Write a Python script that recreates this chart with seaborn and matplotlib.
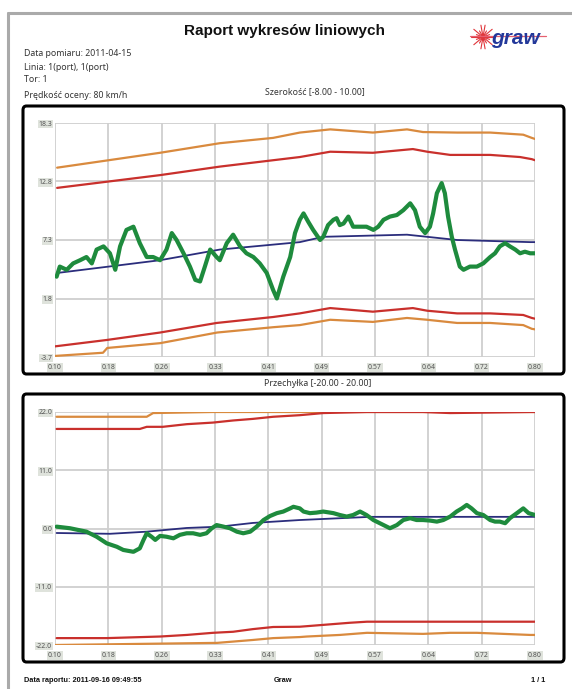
import matplotlib
matplotlib.use("Agg")
import matplotlib.pyplot as plt
from matplotlib.patches import FancyBboxPatch
from matplotlib.lines import Line2D
import numpy as np
import pandas as pd
import seaborn as sns

# ---------------- data ----------------
x_tick_labels = ["0.10", "0.18", "0.26", "0.33", "0.41", "0.49", "0.57", "0.64", "0.72", "0.80"]

# Chart 1: Szerokość
top_ylim = (-3.7, 18.3)
top_yticks = [-3.7, 1.8, 7.3, 12.8, 18.3]
top_ytick_labels = ["-3.7", "1.8", "7.3", "12.8", "18.3"]

w_upper_orange_x = [0.04, 1.97, 3.09, 4.09, 4.59, 5.16, 5.96, 6.60, 6.90, 7.54, 8.16, 8.78, 8.94, 9.0]
w_upper_orange_y = [14.1, 15.5, 16.4, 16.9, 17.4, 17.7, 17.4, 17.7, 17.45, 17.4, 17.4, 17.2, 16.9, 16.8]

w_upper_red_x = [0.04, 1.97, 3.09, 4.59, 5.16, 5.96, 6.71, 6.98, 7.41, 8.16, 8.72, 8.94, 9.0]
w_upper_red_y = [12.2, 13.4, 14.2, 15.1, 15.6, 15.5, 15.85, 15.6, 15.3, 15.3, 15.1, 14.9, 14.8]

w_blue_x = [0.04, 1.97, 3.09, 4.59, 5.03, 6.60, 7.54, 8.91, 9.0]
w_blue_y = [4.2, 5.4, 6.4, 7.1, 7.6, 7.8, 7.3, 7.1, 7.1]

w_green_x = [0.03, 0.09, 0.22, 0.34, 0.47, 0.59, 0.69, 0.78, 0.91, 1.03, 1.13, 1.22, 1.34, 1.47,
             1.59, 1.72, 1.84, 1.97, 2.09, 2.19, 2.28, 2.41, 2.53, 2.63, 2.72, 2.81, 2.91, 3.03,
             3.09, 3.22, 3.34, 3.47, 3.59, 3.72, 3.84, 3.97, 4.09, 4.16, 4.28, 4.41, 4.50, 4.59,
             4.66, 4.75, 4.84, 4.97, 5.03, 5.12, 5.22, 5.28, 5.34, 5.41, 5.50, 5.59, 5.72, 5.84,
             5.97, 6.06, 6.16, 6.28, 6.41, 6.53, 6.66, 6.75, 6.84, 6.94, 7.03, 7.09, 7.16, 7.25,
             7.31, 7.37, 7.44, 7.50, 7.59, 7.66, 7.78, 7.91, 8.03, 8.16, 8.25, 8.34, 8.44, 8.53,
             8.63, 8.72, 8.81, 8.91, 9.0]
w_green_y = [3.85, 4.8, 4.5, 5.1, 5.4, 5.7, 5.1, 6.4, 6.7, 6.05, 4.5, 6.7, 8.25, 8.55,
             7.0, 5.7, 5.7, 5.4, 6.4, 7.95, 7.3, 6.05, 4.8, 3.55, 3.4, 4.8, 6.4, 5.7,
             5.4, 7.0, 7.8, 6.7, 6.05, 5.7, 5.1, 4.2, 2.6, 1.8, 3.85, 5.7, 7.95, 9.2,
             9.8, 9.0, 8.25, 7.3, 7.6, 8.7, 9.2, 9.35, 8.7, 8.85, 9.5, 8.55, 8.55, 8.55,
             8.25, 8.55, 9.2, 9.5, 9.65, 10.1, 10.75, 10.1, 8.55, 7.95, 8.55, 9.8, 11.7, 12.65,
             11.7, 9.5, 7.6, 6.4, 4.8, 4.5, 4.8, 4.8, 5.1, 5.7, 6.05, 6.7, 7.0, 6.7,
             6.4, 6.05, 6.2, 6.05, 6.05]

w_lower_red_x = [0.0, 0.97, 1.97, 3.03, 4.09, 4.59, 5.16, 5.96, 6.71, 6.98, 7.54, 8.16, 8.78, 8.94, 9.0]
w_lower_red_y = [-2.7, -2.1, -1.4, -0.5, 0.06, 0.4, 0.9, 0.56, 0.9, 0.65, 0.4, 0.4, 0.25, -0.03, -0.1]

w_lower_orange_x = [0.0, 0.90, 0.98, 1.97, 3.04, 4.09, 4.59, 5.16, 5.96, 6.60, 6.98, 7.54, 8.16, 8.78, 8.94, 9.0]
w_lower_orange_y = [-3.6, -3.3, -2.85, -2.4, -1.4, -0.9, -0.7, -0.2, -0.4, -0.03, -0.2, -0.5, -0.5, -0.7, -1.05, -1.1]

# Chart 2: Przechyłka
bot_ylim = (-22.0, 22.0)
bot_yticks = [-22.0, -11.0, 0.0, 11.0, 22.0]
bot_ytick_labels = ["-22.0", "-11.0", "0.0", "11.0", "22.0"]

c_upper_orange_x = [0.03, 1.72, 1.84, 2.96, 9.0]
c_upper_orange_y = [21.1, 21.1, 21.8, 22.0, 22.0]

c_upper_red_x = [0.03, 1.59, 1.72, 2.02, 2.47, 2.96, 3.34, 3.71, 4.09, 4.59, 5.03, 5.85, 6.90, 7.41, 8.91, 9.0]
c_upper_red_y = [18.8, 18.8, 19.2, 19.2, 19.7, 20.0, 20.4, 20.7, 21.1, 21.4, 21.8, 22.0, 22.0, 21.8, 22.0, 22.0]

c_blue_x = [0.03, 1.03, 1.72, 2.47, 3.09, 3.71, 4.59, 5.03, 5.91, 6.90, 8.91, 9.0]
c_blue_y = [-0.85, -1.0, -0.6, 0.1, 0.35, 1.05, 1.6, 1.8, 2.2, 2.2, 2.2, 2.2]

c_green_x = [0.03, 0.28, 0.59, 0.78, 0.97, 1.16, 1.28, 1.47, 1.59, 1.66, 1.72, 1.81, 1.88, 1.97,
             2.09, 2.22, 2.34, 2.47, 2.59, 2.72, 2.84, 2.94, 3.03, 3.16, 3.28, 3.41, 3.53, 3.66,
             3.78, 3.91, 4.03, 4.16, 4.28, 4.41, 4.47, 4.59, 4.66, 4.78, 4.90, 5.03, 5.22, 5.34,
             5.47, 5.59, 5.72, 5.84, 5.97, 6.09, 6.22, 6.28, 6.41, 6.53, 6.66, 6.78, 6.90, 7.03,
             7.16, 7.28, 7.41, 7.53, 7.63, 7.72, 7.81, 7.91, 8.03, 8.16, 8.25, 8.34, 8.44, 8.53,
             8.66, 8.78, 8.88, 9.0]
c_green_y = [0.35, 0.05, -0.6, -1.55, -2.8, -3.45, -4.05, -4.4, -3.75, -2.15, -0.9, -1.55, -2.15, -1.4,
             -1.55, -1.85, -1.2, -0.9, -0.9, -1.2, -0.9, 0.05, 0.65, 0.35, 0.05, -0.6, -0.9, -0.6,
             0.35, 1.6, 2.35, 2.9, 3.2, 3.8, 4.1, 3.8, 3.2, 2.9, 3.0, 3.2, 2.9, 2.55,
             2.25, 2.55, 3.2, 2.55, 1.6, 1.0, 0.35, 0.05, 0.65, 1.6, 1.95, 1.6, 1.6, 1.5,
             1.3, 1.6, 2.25, 3.2, 3.8, 4.45, 3.8, 2.9, 2.55, 1.6, 1.3, 1.3, 1.0, 1.95,
             2.9, 3.8, 2.9, 2.55]

c_lower_red_x = [0.03, 0.97, 1.97, 2.47, 2.96, 3.34, 3.71, 4.09, 4.59, 4.78, 5.03, 5.53, 5.85, 8.91, 9.0]
c_lower_red_y = [-20.7, -20.7, -20.4, -20.1, -19.7, -19.5, -19.0, -18.6, -18.55, -18.4, -18.2, -17.8, -17.6, -17.6, -17.6]

c_lower_orange_x = [0.0, 3.04, 3.71, 4.09, 4.59, 4.72, 5.34, 5.85, 6.90, 7.41, 7.91, 8.91, 9.0]
c_lower_orange_y = [-22.0, -21.6, -21.05, -20.7, -20.5, -20.4, -20.1, -19.7, -19.9, -19.7, -19.7, -20.1, -20.1]

# ---------------- style ----------------
sns.set_theme(style="white")
plt.rcParams['font.family'] = ['Noto Sans', 'DejaVu Sans']

W, H = 572, 689
fig = plt.figure(figsize=(W / 100, H / 100), dpi=100)
fig.patch.set_facecolor("white")

def fx(px):
    return px / W

def fy(py):
    return 1 - py / H

GREEN = "#1e8b3d"
BLUE = "#2b2d7c"
RED = "#c9302c"
ORANGE = "#d98a3e"
GRID = "#cfcfcf"

def draw_series(ax, x, y, color, lw):
    df = pd.DataFrame({"x": x, "y": y})
    sns.lineplot(data=df, x="x", y="y", ax=ax, color=color, linewidth=lw,
                 estimator=None, sort=False)

def setup_axes(ax, ylim, yticks, ylabels):
    ax.set_xlim(0, 9)
    ax.set_ylim(*ylim)
    ax.set_xticks(range(10))
    ax.set_xticklabels(x_tick_labels)
    ax.set_yticks(yticks)
    ax.set_yticklabels(ylabels)
    ax.grid(True, color=GRID, linewidth=1.3)
    for s in ax.spines.values():
        s.set_visible(False)
    ax.set_xlabel("")
    ax.set_ylabel("")
    ax.tick_params(axis="both", length=0, labelsize=5, colors="#555555")
    ax.tick_params(axis="x", pad=5)
    ax.tick_params(axis="y", pad=2)
    for lab in ax.get_xticklabels() + ax.get_yticklabels():
        lab.set_bbox(dict(facecolor="#dfe3dc", edgecolor="none", pad=0.6))
    ax.set_facecolor("white")

# page frame
fig.add_artist(Line2D([fx(8), fx(8)], [fy(13), 0], color="#aaaaaa", lw=2.2))
fig.add_artist(Line2D([fx(8), 1], [fy(13), fy(13)], color="#aaaaaa", lw=2.2))

# title
fig.text(fx(285), fy(31), "Raport wykresów liniowych", ha="center", va="center",
         fontsize=11, fontweight="bold", family=["Liberation Sans", "DejaVu Sans"], color="#111111")

# logo
fig.text(fx(515), fy(39), "graw", ha="center", va="center", fontsize=15, fontweight="bold",
         style="italic", color="#23389a", family=["Liberation Sans", "DejaVu Sans"])
cx, cy = 483, 37
for ang in np.linspace(0, np.pi, 9, endpoint=False):
    L = 12 if int(round(ang * 8 / np.pi)) % 2 == 0 else 7
    fig.add_artist(Line2D([fx(cx - L * np.cos(ang)), fx(cx + L * np.cos(ang))],
                          [fy(cy - L * np.sin(ang)), fy(cy + L * np.sin(ang))],
                          color="#e0353a", lw=0.8))
fig.add_artist(Line2D([fx(470), fx(546)], [fy(36), fy(36)], color="#e66070", lw=0.9))

# info lines
info = ["Data pomiaru: 2011-04-15", "Linia: 1(port), 1(port)", "Tor: 1", "Prędkość oceny: 80 km/h"]
for txt, py in zip(info, [53, 67, 80, 95]):
    fig.text(fx(24), fy(py), txt, ha="left", va="center", fontsize=6.3, color="#333333")

fig.text(fx(315), fy(92), "Szerokość [-8.00 - 10.00]", ha="center", va="center",
         fontsize=6.3, color="#333333")
fig.text(fx(318), fy(384), "Przechyłka [-20.00 - 20.00]", ha="center", va="center",
         fontsize=6.3, color="#333333")

# boxes
for (y0, y1) in [(106, 374), (394, 662)]:
    box = FancyBboxPatch((fx(23), fy(y1)), fx(564) - fx(23), fy(y0) - fy(y1),
                         boxstyle="round,pad=0,rounding_size=0.006",
                         transform=fig.transFigure, fill=False, edgecolor="black",
                         linewidth=2.2, zorder=0)
    fig.add_artist(box)

# chart 1
ax1 = fig.add_axes([fx(55), fy(357), fx(535) - fx(55), fy(123) - fy(357)])
draw_series(ax1, w_upper_orange_x, w_upper_orange_y, ORANGE, 1.6)
draw_series(ax1, w_upper_red_x, w_upper_red_y, RED, 1.6)
draw_series(ax1, w_lower_red_x, w_lower_red_y, RED, 1.6)
draw_series(ax1, w_lower_orange_x, w_lower_orange_y, ORANGE, 1.6)
draw_series(ax1, w_blue_x, w_blue_y, BLUE, 1.3)
draw_series(ax1, w_green_x, w_green_y, GREEN, 3.0)
setup_axes(ax1, top_ylim, top_yticks, top_ytick_labels)

# chart 2
ax2 = fig.add_axes([fx(55), fy(645), fx(535) - fx(55), fy(412) - fy(645)])
draw_series(ax2, c_upper_orange_x, c_upper_orange_y, ORANGE, 1.6)
draw_series(ax2, c_upper_red_x, c_upper_red_y, RED, 1.6)
draw_series(ax2, c_lower_red_x, c_lower_red_y, RED, 1.6)
draw_series(ax2, c_lower_orange_x, c_lower_orange_y, ORANGE, 1.6)
draw_series(ax2, c_blue_x, c_blue_y, BLUE, 1.3)
draw_series(ax2, c_green_x, c_green_y, GREEN, 3.0)
setup_axes(ax2, bot_ylim, bot_yticks, bot_ytick_labels)

# footer
ff = ["Liberation Sans", "DejaVu Sans"]
fig.text(fx(24), fy(681), "Data raportu: 2011-09-16 09:49:55", ha="left", va="center",
         fontsize=5.3, fontweight="bold", family=ff, color="#111111")
fig.text(fx(283), fy(681), "Graw", ha="center", va="center",
         fontsize=5.3, fontweight="bold", family=ff, color="#111111")
fig.text(fx(538), fy(681), "1 / 1", ha="center", va="center",
         fontsize=5.3, fontweight="bold", family=ff, color="#111111")

fig.savefig("out.png", dpi=100, facecolor="white")
